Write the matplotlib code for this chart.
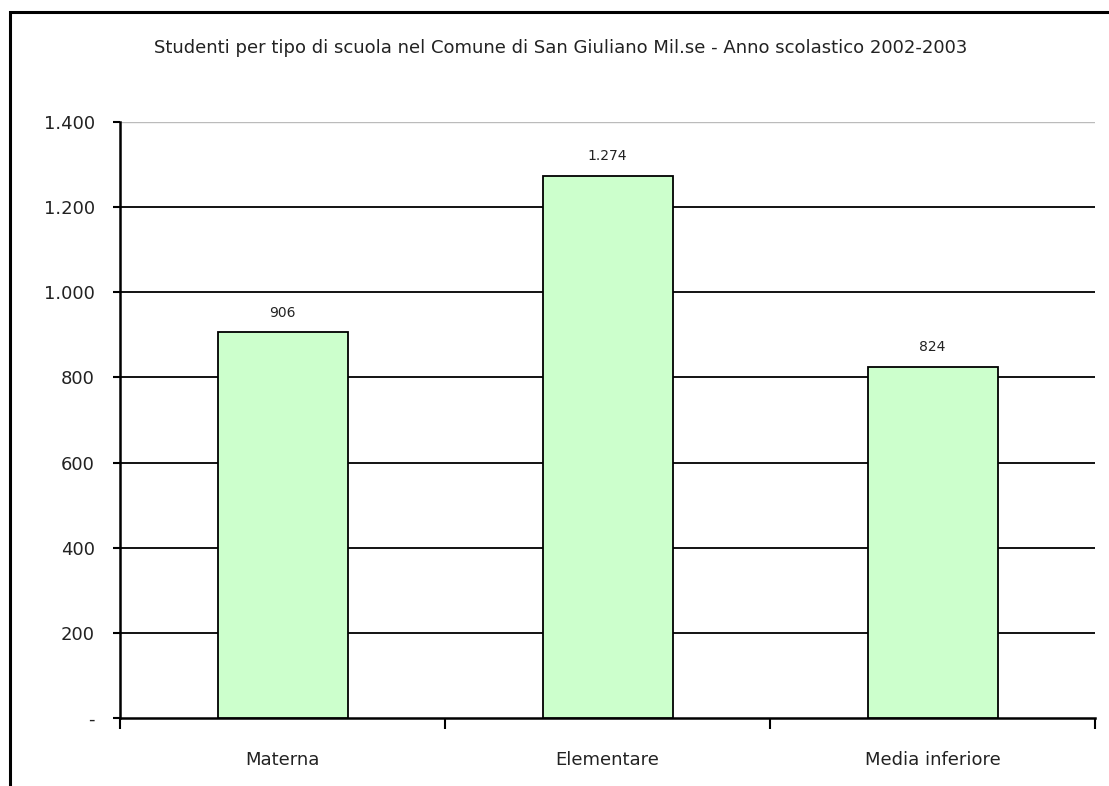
import matplotlib
matplotlib.use('Agg')
import matplotlib.pyplot as plt
from matplotlib.patches import Rectangle
from matplotlib.ticker import FuncFormatter

categories = ['Materna', 'Elementare', 'Media inferiore']
students = [906, 1274, 824]
y_ticks = [0, 200, 400, 600, 800, 1000, 1200, 1400]

W, H = 1109, 786
fig = plt.figure(figsize=(W / 100, H / 100), dpi=100)
plt.rcParams['font.family'] = ['DejaVu Sans']

# outer frame (bottom/right run off the picture)
fig.patches.append(Rectangle((10 / W, -0.1), 1.2, 1 - 12 / H + 0.1, transform=fig.transFigure,
                             fill=False, edgecolor='black', linewidth=2.2))

ax = fig.add_axes([120 / W, 1 - 718 / H, (1095 - 120) / W, (718 - 122) / H])

def fmt(v, pos=None):
    if v == 0:
        return '-'
    return f'{int(v):,}'.replace(',', '.')

x = list(range(len(categories)))
ax.bar(x, students, width=0.4, color='#ccffcc', edgecolor='black', linewidth=1.3, zorder=3)
for xi, v in zip(x, students):
    ax.text(xi, v + 30, fmt(v), ha='center', va='bottom', fontsize=10, color='#222222')

ax.set_xlim(-0.5, len(categories) - 0.5)
ax.set_ylim(0, 1400)
ax.set_yticks(y_ticks)
ax.yaxis.set_major_formatter(FuncFormatter(fmt))
for t in y_ticks[1:-1]:
    ax.axhline(t, color='black', linewidth=1.3, zorder=1)
ax.axhline(1400, color='#bbbbbb', linewidth=1, zorder=1)

ax.set_xticks(x)
ax.set_xticklabels(categories)
ax.set_xticks([i - 0.5 for i in range(len(categories) + 1)], minor=True)
ax.tick_params(axis='x', which='major', length=0, pad=24, labelsize=13, labelcolor='#222222')
ax.tick_params(axis='x', which='minor', length=8, width=1.5, direction='out')
ax.tick_params(axis='y', length=5, width=1.5, direction='out', pad=13, labelsize=13, labelcolor='#222222')

for s in ['top', 'right']:
    ax.spines[s].set_visible(False)
ax.spines['left'].set_linewidth(1.8)
ax.spines['bottom'].set_linewidth(1.8)

fig.text(561 / W, 1 - 48 / H, 'Studenti per tipo di scuola nel Comune di San Giuliano Mil.se - Anno scolastico 2002-2003',
         ha='center', va='center', fontsize=13, color='#222222')

fig.savefig('out.png', dpi=100, facecolor='white')
